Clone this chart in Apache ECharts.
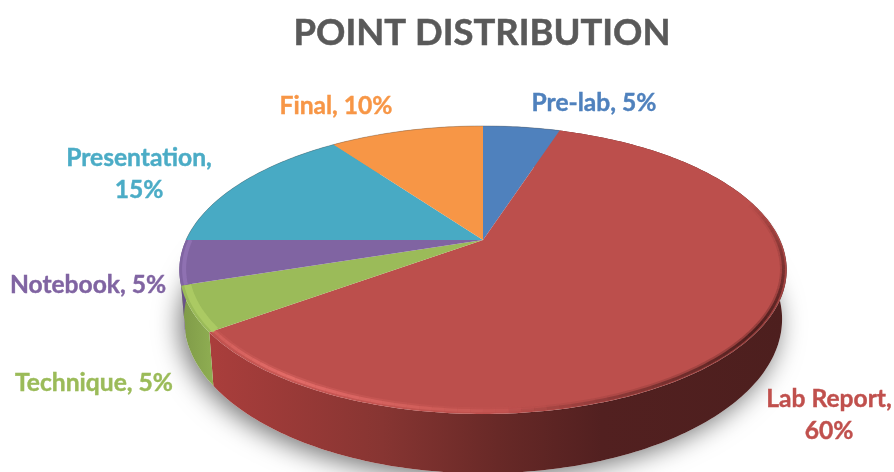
<!DOCTYPE html>
<html>
  <head>
    <meta charset="utf-8" />
    <title>Point Distribution</title>
    <style>
      html, body { margin: 0; padding: 0; background: #fff; }
    </style>
  </head>
  <body>
    <div id="chart" style="width: 894px; height: 472px"></div>

    <script src="https://cdn.jsdelivr.net/npm/echarts@6/dist/echarts.min.js"></script>
    <script>
      const categories = ['Pre-lab', 'Lab Report', 'Technique', 'Notebook', 'Presentation', 'Final'];
      const percents = [5, 60, 5, 5, 15, 10];
      const labelTexts = ['Pre-lab, 5%', 'Lab Report,\n60%', 'Technique, 5%', 'Notebook, 5%', 'Presentation,\n15%', 'Final, 10%'];
      const titleText = 'POINT DISTRIBUTION';

      // colours and label spots, same order as categories
      const topColors = ['#4f81bd', '#bc4f4c', '#9bbb59', '#8064a2', '#48aac4', '#f79646'];
      const labelColors = ['#4f81bd', '#c0504d', '#9bbb59', '#8064a2', '#4bacc6', '#f79646'];
      const labelSpots = [[594, 103], [829, 415], [94, 383], [88, 285], [139, 174], [336, 106]];

      // perspective of the tilted disc
      const CX = 483, CY = 240, FX = 297, FY = 137.8, PERSP = 0.208, DEPTH = 47, SHRINK = 0.985;

      function project(deg, r) {
        const t = (deg * Math.PI) / 180;
        const u = r * Math.sin(t);
        const v = r * Math.cos(t);
        const w = 1 + PERSP * v;
        return [CX + (FX * u) / w, CY - (FY * v) / w, w];
      }

      function lower(deg) {
        const p = project(deg, 1);
        return [CX + (p[0] - CX) * SHRINK, p[1] + DEPTH / p[2]];
      }

      function arc(from, to, fn) {
        const pts = [];
        const n = Math.max(2, Math.ceil(to - from));
        for (let i = 0; i <= n; i++) {
          pts.push(fn(from + ((to - from) * i) / n));
        }
        return pts;
      }

      function sliceRange(idx) {
        let before = 0;
        for (let i = 0; i < idx; i++) before += percents[i];
        return [(before * 360) / 100, ((before + percents[idx]) * 360) / 100];
      }

      const onRim = (d) => project(d, 1).slice(0, 2);
      const inset = (r) => (d) => project(d, r).slice(0, 2);
      const hGrad = (stops) =>
        new echarts.graphic.LinearGradient(0, 0, 1, 0, stops.map((s) => ({ offset: s[0], color: s[1] })));

      function wallFill(idx) {
        if (idx === 1) {
          return hGrad([[0, '#aa3e3c'], [0.3, '#873532'], [0.5, '#682927'], [0.68, '#522020'], [1, '#4d1f1e']]);
        }
        if (idx === 2) return hGrad([[0, '#7f9a48'], [1, '#8fae52']]);
        if (idx === 3) return '#6a5288';
        return topColors[idx];
      }

      function renderWall(params) {
        const idx = params.dataIndex;
        const r = sliceRange(idx);
        const top = arc(r[0], r[1], onRim);
        const bottom = arc(r[0], r[1], lower).reverse();
        return {
          type: 'polygon',
          shape: { points: top.concat(bottom) },
          style: { fill: wallFill(idx) },
        };
      }

      function renderShadow(params) {
        if (params.dataIndex !== 0) return null;
        return {
          type: 'polygon',
          shape: { points: arc(0, 360, lower) },
          style: {
            fill: '#fff',
            shadowBlur: 26,
            shadowColor: 'rgba(0,0,0,0.55)',
            shadowOffsetX: -4,
            shadowOffsetY: 5,
          },
        };
      }

      function rimLine(pts, stroke, width) {
        return {
          type: 'polyline',
          shape: { points: pts },
          style: { fill: 'none', stroke: stroke, lineWidth: width },
        };
      }

      // rim shading drawn degree by degree, strength rises then falls over the arc
      function fadedRim(from, peakAt, to, rgb, radius, strength) {
        const out = [];
        for (let d = from; d < to; d += 2) {
          const k = d < peakAt ? (d - from) / (peakAt - from) : (to - d) / (to - peakAt);
          const pts = arc(d, d + 2, inset(radius));
          out.push(rimLine(pts, `rgba(${rgb},${(k * strength * 0.3).toFixed(3)})`, 7));
          out.push(rimLine(pts, `rgba(${rgb},${(k * strength * 0.8).toFixed(3)})`, 3));
        }
        return out;
      }

      function renderTop(params) {
        const idx = params.dataIndex;
        const r = sliceRange(idx);
        let children = [
          {
            type: 'polygon',
            shape: { points: [[CX, CY]].concat(arc(r[0], r[1], onRim)) },
            style: { fill: topColors[idx] },
          },
        ];
        if (idx === 1) {
          // dark soft edge on the right, bright lip on the near left
          children = children.concat(fadedRim(72, 125, 176, '55,20,20', 0.99, 0.95));
          children = children.concat(fadedRim(168, 212, r[1] + 14, '232,112,108', 0.985, 1));
        } else if (idx === 2) {
          children.push(rimLine(arc(r[0], r[1], inset(0.98)), 'rgba(178,208,104,0.7)', 7));
        } else if (idx === 3) {
          children.push(rimLine(arc(r[0], r[1], inset(0.985)), 'rgba(146,116,182,0.8)', 4));
        } else {
          children.push(rimLine(arc(r[0], r[1], onRim), 'rgba(80,80,80,0.35)', 1));
        }
        children.push({
          type: 'text',
          style: {
            text: labelTexts[idx],
            x: labelSpots[idx][0],
            y: labelSpots[idx][1],
            fill: labelColors[idx],
            stroke: labelColors[idx],
            lineWidth: 0.4,
            font: 'bold 24.6px Lato',
            lineHeight: 32,
            align: 'center',
            verticalAlign: 'middle',
          },
        });
        return { type: 'group', children: children };
      }

      const chartData = categories.map((name, i) => ({ name: name, value: percents[i] }));

      const chart = echarts.init(document.getElementById('chart'), null, {
        width: 894,
        height: 472,
      });

      chart.setOption({
        animation: false,
        backgroundColor: '#fff',
        title: {
          text: titleText,
          left: 477,
          top: 10,
          textAlign: 'center',
          textStyle: {
            color: '#595959',
            fontFamily: 'Lato',
            fontWeight: 'bold',
            fontSize: 36.4,
            textBorderColor: '#595959',
            textBorderWidth: 0.5,
          },
        },
        series: [
          { type: 'custom', coordinateSystem: 'none', z: 1, silent: true, data: chartData, renderItem: renderShadow },
          { type: 'custom', coordinateSystem: 'none', z: 2, silent: true, data: chartData, renderItem: renderWall },
          { type: 'custom', coordinateSystem: 'none', z: 3, silent: true, data: chartData, renderItem: renderTop },
        ],
      });
    </script>
  </body>
</html>
